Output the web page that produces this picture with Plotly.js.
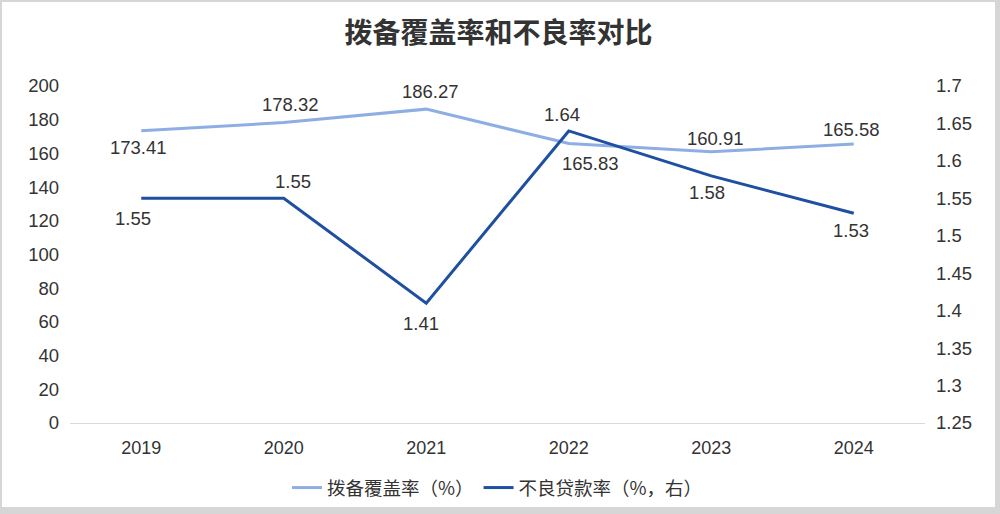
<!DOCTYPE html>
<html>
<head>
<meta charset="utf-8">
<script src="https://cdn.plot.ly/plotly-3.0.1.min.js"></script>
<style>
html,body{margin:0;padding:0;background:#fff;}
#wrap{width:1000px;height:514px;box-sizing:border-box;border-style:solid;border-color:#d6d6d6;border-width:2px 5px 7px 2px;background:#fff;}
#chart{width:993px;height:505px;}
</style>
</head>
<body>
<div id="wrap"><div id="chart"></div></div>
<script>
const years = ["2019","2020","2021","2022","2023","2024"];
const coverage = [173.41, 178.32, 186.27, 165.83, 160.91, 165.58];
const npl = [1.55, 1.55, 1.41, 1.64, 1.58, 1.53];
const titleText = "拨备覆盖率和不良率对比";
const name1 = "拨备覆盖率（%）";
const name2 = "不良贷款率（%，右）";

// label placement (pixel shifts from each data point), styling only
const coverageShift = [[-3,-17],[7,18],[4,18],[22,-20],[4,13],[-2,15]];
const nplShift = [[-8,-20],[9,17],[-5,-20],[-7,16],[-4,-17],[-3,-17]];

const FONT = "'Liberation Sans', Arial, 'Noto Sans CJK SC', sans-serif";
const CJK = "'Noto Sans CJK SC', sans-serif";

const traces = [
  {
    x: years, y: coverage, name: name1, type: "scatter", mode: "lines",
    line: {color: "#8eaee3", width: 3}, hoverinfo: "x+y"
  },
  {
    x: years, y: npl, name: name2, type: "scatter", mode: "lines", yaxis: "y2",
    line: {color: "#1f4fa0", width: 3}, hoverinfo: "x+y"
  }
];

const annotations = [];
for (let i = 0; i < years.length; i++) {
  annotations.push({x: i, y: coverage[i], xref: "x", yref: "y", text: coverage[i].toFixed(2), showarrow: false,
    xanchor: "center", yanchor: "middle",
    xshift: coverageShift[i][0], yshift: coverageShift[i][1], font: {size: 18.5, color: "#333", family: FONT}});
  annotations.push({x: i, y: npl[i], xref: "x", yref: "y2", text: npl[i].toFixed(2), showarrow: false,
    xanchor: "center", yanchor: "middle",
    xshift: nplShift[i][0], yshift: nplShift[i][1], font: {size: 18.5, color: "#333", family: FONT}});
}

const layout = {
  width: 993, height: 505,
  margin: {l: 68, r: 70, t: 84, b: 84, autoexpand: false},
  paper_bgcolor: "#fff", plot_bgcolor: "#fff",
  font: {family: FONT, color: "#333", size: 18},
  title: {text: "<b>" + titleText + "</b>", x: 0.5, xanchor: "center", y: 0.939, yanchor: "middle", yref: "container",
          font: {size: 28, color: "#333", family: CJK}},
  showlegend: true,
  legend: {orientation: "h", x: 0.5, xanchor: "center", y: -0.193, yanchor: "middle",
           font: {size: 18.5, color: "#333", family: CJK}},
  annotations: annotations,
  xaxis: {type: "category", range: [-0.5, 5.5], automargin: false, showgrid: false, zeroline: false, showline: true,
          linecolor: "#d9d9d9", linewidth: 1, ticks: "", tickfont: {size: 18, color: "#333"}, ticklabelstandoff: 8, fixedrange: true},
  yaxis: {range: [0, 200], dtick: 20, automargin: false, showgrid: false, zeroline: false, showline: false, ticks: "",
          tickfont: {size: 18.5, color: "#333"}, ticklabelstandoff: 10, fixedrange: true},
  yaxis2: {range: [1.25, 1.7], dtick: 0.05, tick0: 1.25, overlaying: "y", side: "right", automargin: false, showgrid: false, zeroline: false,
           showline: false, ticks: "", tickfont: {size: 18.5, color: "#333"}, ticklabelstandoff: 10, fixedrange: true}
};

Plotly.newPlot("chart", traces, layout, {displayModeBar: false, staticPlot: true});
</script>
</body>
</html>
